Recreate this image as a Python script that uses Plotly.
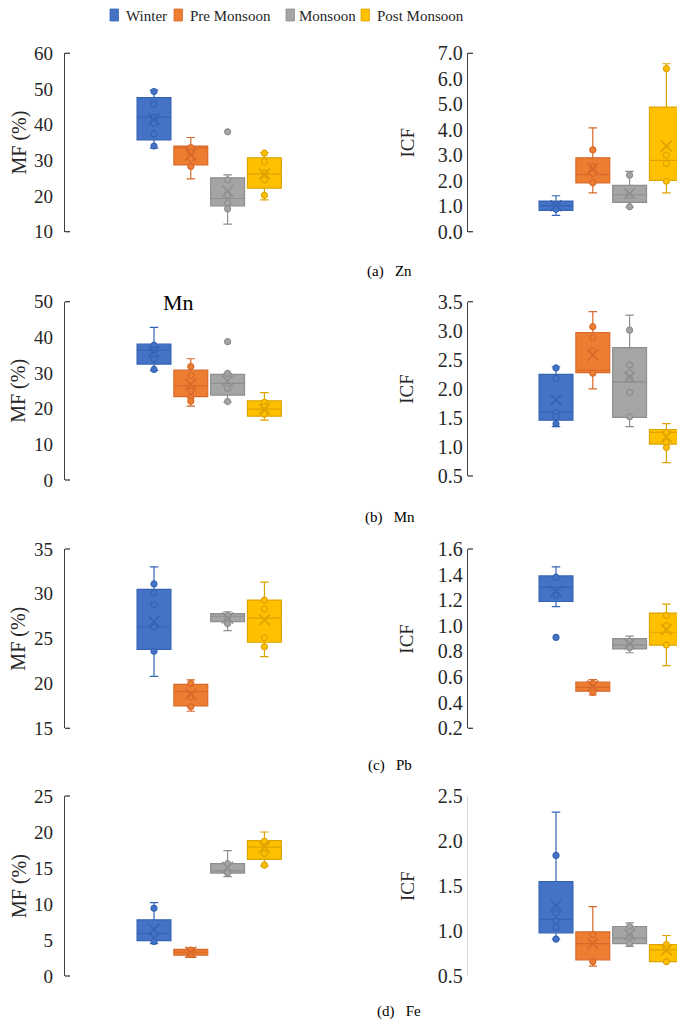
import plotly.graph_objects as go

# ---------------- data ----------------
seasons = ["Winter", "Pre Monsoon", "Monsoon", "Post Monsoon"]
season_pos = [0, 1, 2, 3]

# five-number summaries per season: [lower whisker, Q1, median, Q3, upper whisker]
zn_mf_summary = [[33.4, 35.7, 42.1, 47.6, 49.7], [24.8, 28.7, 33.5, 34.0, 36.4],
                 [12.1, 17.2, 19.3, 25.1, 25.9], [18.9, 22.2, 26.2, 30.7, 32.2]]
zn_mf_mean = [41.5, 31.6, 21.4, 26.2]
zn_mf_points = [[49.3, 45.7, 42.0, 40.4, 37.4, 34.0], [33.6, 32.2, 30.5, 28.3],
                [38.0, 24.5, 20.3, 18.1, 16.4], [32.0, 29.6, 26.5, 24.5, 20.2]]

zn_icf_summary = [[0.64, 0.84, 1.02, 1.20, 1.41], [1.52, 1.91, 2.24, 2.90, 4.07],
                  [0.96, 1.15, 1.45, 1.82, 2.37], [1.52, 2.01, 2.80, 4.89, 6.59]]
zn_icf_mean = [1.02, 2.49, 1.50, 3.36]
zn_icf_points = [[1.05, 0.88], [3.21, 2.55, 2.29, 1.92],
                 [2.22, 1.41, 0.98], [6.40, 3.00, 2.68, 1.98]]

mn_mf_summary = [[30.7, 32.5, 36.4, 38.1, 42.8], [20.7, 23.4, 26.4, 30.8, 34.0],
                 [21.8, 23.8, 27.1, 29.6, 29.9], [16.8, 17.9, 19.9, 22.2, 24.5]]
mn_mf_mean = [36.0, 26.9, 27.8, 19.9]
mn_mf_points = [[37.8, 36.4, 33.9, 31.0], [31.8, 29.3, 25.0, 23.1, 22.1],
                [38.8, 29.9, 25.7, 22.0], [21.8, 20.5, 18.5]]

mn_icf_summary = [[1.35, 1.46, 1.60, 2.25, 2.38], [2.00, 2.28, 2.32, 2.97, 3.33],
                  [1.35, 1.51, 2.12, 2.71, 3.27], [0.73, 1.05, 1.25, 1.30, 1.40]]
mn_icf_mean = [1.81, 2.58, 2.20, 1.18]
mn_icf_points = [[2.36, 2.18, 1.59, 1.52, 1.40], [3.07, 2.88, 2.65, 2.27],
                 [3.01, 2.41, 2.28, 2.17, 1.94, 1.52], [1.25, 1.08, 0.99]]

pb_mf_summary = [[20.8, 23.8, 26.3, 30.5, 33.0], [16.9, 17.5, 19.1, 19.9, 20.4],
                 [25.9, 26.9, 27.5, 27.8, 28.0], [23.0, 24.6, 27.3, 29.3, 31.3]]
pb_mf_mean = [26.9, 18.8, 27.3, 27.1]
pb_mf_points = [[31.1, 30.1, 28.8, 26.3, 23.6], [20.0, 18.5, 17.4],
                [27.6, 27.1, 26.7], [29.3, 28.3, 25.1, 24.1]]

pb_icf_summary = [[1.15, 1.19, 1.30, 1.39, 1.46], [0.46, 0.49, 0.52, 0.56, 0.58],
                  [0.79, 0.82, 0.85, 0.90, 0.92], [0.69, 0.85, 0.95, 1.10, 1.17]]
pb_icf_mean = [1.27, 0.53, 0.86, 0.97]
pb_icf_points = [[1.38, 1.24, 0.91], [0.55, 0.48],
                 [0.88, 0.83], [1.08, 1.00, 0.85]]

fe_mf_summary = [[4.5, 4.9, 5.9, 7.8, 10.2], [2.6, 2.9, 3.3, 3.7, 3.9],
                 [13.8, 14.3, 14.6, 15.6, 17.4], [15.3, 16.2, 17.9, 18.8, 20.0]]
fe_mf_mean = [6.5, 3.3, 15.1, 17.9]
fe_mf_points = [[9.4, 5.9, 4.8], [3.6, 3.0],
                [15.6, 14.3], [18.7, 17.0, 15.4]]

fe_icf_summary = [[0.91, 0.98, 1.13, 1.55, 2.32], [0.61, 0.68, 0.86, 0.99, 1.27],
                  [0.83, 0.86, 0.92, 1.05, 1.09], [0.66, 0.66, 0.79, 0.85, 0.95]]
fe_icf_mean = [1.28, 0.86, 0.96, 0.79]
fe_icf_points = [[1.84, 1.20, 1.11, 1.04, 0.91], [0.96, 0.66],
                 [1.05, 0.94, 0.86], [0.85, 0.80, 0.66]]

# y-axis ticks per panel
zn_mf_ticks = [10, 20, 30, 40, 50, 60]
zn_icf_ticks = [0, 1, 2, 3, 4, 5, 6, 7]
mn_mf_ticks = [0, 10, 20, 30, 40, 50]
mn_icf_ticks = [0.5, 1.0, 1.5, 2.0, 2.5, 3.0, 3.5]
pb_mf_ticks = [15, 20, 25, 30, 35]
pb_icf_ticks = [0.2, 0.4, 0.6, 0.8, 1.0, 1.2, 1.4, 1.6]
fe_mf_ticks = [0, 5, 10, 15, 20, 25]
fe_icf_ticks = [0.5, 1.0, 1.5, 2.0, 2.5]

captions = ["(a)\u00a0\u00a0\u00a0Zn", "(b)\u00a0\u00a0\u00a0Mn", "(c)\u00a0\u00a0\u00a0Pb", "(d)\u00a0\u00a0\u00a0Fe"]

# ---------------- style / layout ----------------
OFF = 8                      # page body margin in the browser
W, H = 685 - OFF, 1021 - OFF


def px_x(x):
    return (x - OFF) / W


def px_y(y):
    return 1 - (y - OFF) / H


fills = ["#4472C4", "#ED7D31", "#A5A5A5", "#FFC000"]
edges = ["#3563B4", "#D8692A", "#8E8E8E", "#DDA400"]
FONT = "Liberation Serif, Times New Roman, serif"
PX_PER_UNIT = 36.8
BOX_W = 0.92

# panel: summary, mean, points, ticks, fmt, side, (top px, bottom px)
panels = [
    (zn_mf_summary, zn_mf_mean, zn_mf_points, zn_mf_ticks, "d", "L", (53.3, 231.7)),
    (zn_icf_summary, zn_icf_mean, zn_icf_points, zn_icf_ticks, ".1f", "R", (53.3, 231.7)),
    (mn_mf_summary, mn_mf_mean, mn_mf_points, mn_mf_ticks, "d", "L", (301.7, 480.0)),
    (mn_icf_summary, mn_icf_mean, mn_icf_points, mn_icf_ticks, ".1f", "R", (301.7, 476.0)),
    (pb_mf_summary, pb_mf_mean, pb_mf_points, pb_mf_ticks, "d", "L", (549.0, 728.3)),
    (pb_icf_summary, pb_icf_mean, pb_icf_points, pb_icf_ticks, ".1f", "R", (549.0, 728.3)),
    (fe_mf_summary, fe_mf_mean, fe_mf_points, fe_mf_ticks, "d", "L", (796.0, 976.0)),
    (fe_icf_summary, fe_icf_mean, fe_icf_points, fe_icf_ticks, ".1f", "R", (796.0, 976.0)),
]

fig = go.Figure()
layout = dict(width=W, height=H, margin=dict(l=0, r=0, t=0, b=0, autoexpand=False),
              paper_bgcolor="white", plot_bgcolor="white",
              showlegend=False, boxmode="overlay", shapes=[], annotations=[])

for i, (summ, means, pts, ticks, fmt, side, (ytop, ybot)) in enumerate(panels):
    n = i + 1
    xa = "x" if n == 1 else f"x{n}"
    ya = "y" if n == 1 else f"y{n}"
    if side == "L":
        left_px, right_px, first_px = 65, 355, 154
    else:
        left_px, right_px, first_px = 468, 685, 556
    x0 = (left_px - first_px) / PX_PER_UNIT
    x1 = x0 + (right_px - left_px) / PX_PER_UNIT

    for s in range(4):
        lo, q1, med, q3, hi = summ[s]
        fig.add_trace(go.Box(
            x=[season_pos[s]], lowerfence=[lo], q1=[q1], median=[med], q3=[q3], upperfence=[hi],
            width=BOX_W, whiskerwidth=0.25, fillcolor=fills[s],
            line=dict(color=edges[s], width=1.2), boxpoints=False,
            name=seasons[s], showlegend=False,
            xaxis=xa, yaxis=ya, hoverinfo="skip"))
    for s in range(4):
        fig.add_trace(go.Scatter(
            x=[season_pos[s]] * len(pts[s]), y=pts[s], mode="markers",
            marker=dict(size=6, color=fills[s], line=dict(color=edges[s], width=1.2)),
            showlegend=False, xaxis=xa, yaxis=ya, hoverinfo="skip"))
        fig.add_trace(go.Scatter(
            x=[season_pos[s]], y=[means[s]], mode="markers",
            marker=dict(symbol="x-thin", size=11, line=dict(color=edges[s], width=1.6)),
            showlegend=False, xaxis=xa, yaxis=ya, hoverinfo="skip"))

    xkey = "xaxis" if n == 1 else f"xaxis{n}"
    ykey = "yaxis" if n == 1 else f"yaxis{n}"
    layout[xkey] = dict(domain=[px_x(left_px), px_x(right_px)], range=[x0, x1], anchor=ya,
                        visible=False, fixedrange=True, automargin=False)
    axis_col = "#D9D9D9" if n == 8 else "#404040"
    layout[ykey] = dict(domain=[px_y(ybot), px_y(ytop)], range=[ticks[0], ticks[-1]],
                        anchor=xa, tickvals=ticks, tickformat=fmt, automargin=False,
                        showline=True, linecolor=axis_col, linewidth=1.3,
                        showgrid=False, zeroline=False, ticks="",
                        ticklabelstandoff=(7 if side == "L" else 0),
                        tickfont=dict(family=FONT, size=(19 if side == "L" else 20), color="#262626"))
    pw = right_px - left_px
    if n != 8:
        for yy in (0, 1):
            layout["shapes"].append(dict(type="line", xref=f"{xa} domain", yref=f"{ya} domain",
                                         x0=0, x1=5 / pw, y0=yy, y1=yy,
                                         line=dict(color=axis_col, width=1.3)))
    # axis titles
    ymid = px_y((ytop + ybot) / 2)
    layout["annotations"].append(dict(
        text=("MF (%)" if side == "L" else "ICF"), textangle=-90,
        x=px_x(19 if side == "L" else 407), y=ymid, xref="paper", yref="paper",
        showarrow=False, xanchor="center", yanchor="middle",
        font=dict(family=FONT, size=(20 if side == "L" else 19), color="#262626")))

# captions
cap_pos = [(365, 271), (363, 517), (366, 765), (375, 1011)]
for txt, (cx, cy) in zip(captions, cap_pos):
    layout["annotations"].append(dict(text=txt, x=px_x(cx), y=px_y(cy), xref="paper", yref="paper",
                                      showarrow=False, xanchor="left", yanchor="middle",
                                      font=dict(family=FONT, size=15, color="#000000")))
# Mn label in panel
layout["annotations"].append(dict(text="Mn", x=px_x(178), y=px_y(303), xref="paper", yref="paper",
                                  showarrow=False, xanchor="center", yanchor="middle",
                                  font=dict(family=FONT, size=22, color="#000000")))

# legend (swatch + label per season) across the top
legend_swatch_x = [110, 174, 286, 361]
legend_text_x = [124, 188, 297, 375]
for s in range(4):
    layout["shapes"].append(dict(type="rect", xref="paper", yref="paper",
                                 x0=px_x(legend_swatch_x[s]), x1=px_x(legend_swatch_x[s] + 8.5),
                                 y0=px_y(21), y1=px_y(9),
                                 fillcolor=fills[s], line=dict(color=edges[s], width=0.8)))
    layout["annotations"].append(dict(text=seasons[s], x=px_x(legend_text_x[s]), y=px_y(16),
                                      xref="paper", yref="paper", showarrow=False,
                                      xanchor="left", yanchor="middle",
                                      font=dict(family=FONT, size=15, color="#262626")))

fig.update_layout(**layout)
fig.write_html("out.html")
